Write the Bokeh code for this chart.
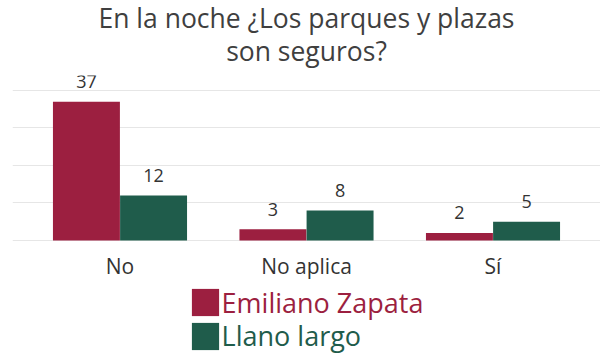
from bokeh.plotting import figure
from bokeh.models import FactorRange, Range1d, ColumnDataSource, Legend, LegendItem, Title
from bokeh.layouts import column
from bokeh.transform import dodge
from bokeh.core.properties import value
from bokeh.embed import file_html
from bokeh.resources import INLINE

categories = ["No", "No aplica", "Sí"]
emiliano_zapata = [37, 3, 2]
llano_largo = [12, 8, 5]
series_names = ["Emiliano Zapata", "Llano largo"]
grid_ticks = [0, 10, 20, 30, 40]
title_lines = ["En la noche ¿Los parques y plazas", "son seguros?"]

RED = "#9c1f40"
GREEN = "#1f5c4b"
FONT = "Open Sans"

src = ColumnDataSource(dict(
    cat=categories,
    ez=emiliano_zapata,
    ll=llano_largo,
    ez_lbl=[str(v) for v in emiliano_zapata],
    ll_lbl=[str(v) for v in llano_largo],
))

p = figure(
    width=600, height=282,
    x_range=FactorRange(*categories, range_padding=0.0764, range_padding_units="absolute"),
    y_range=Range1d(-0.3, 43.97),
    output_backend="svg", toolbar_location=None,
    min_border_left=12, min_border_right=0, min_border_top=75, min_border_bottom=40,
    title=title_lines[0],
)
p.outline_line_color = None


def style_title(t, standoff):
    t.align = "center"
    t.offset = 5
    t.text_font = FONT
    t.text_font_size = "26.5px"
    t.text_font_style = "normal"
    t.text_color = "#3f3f3f"
    t.standoff = standoff


style_title(p.title, -24)
t2 = Title(text=title_lines[1])
style_title(t2, 14)
p.add_layout(t2, "above")

w = 0.359
off = 0.18
r1 = p.vbar(x=dodge("cat", -off, range=p.x_range), top="ez", width=w, source=src,
            fill_color=RED, line_color=None)
r2 = p.vbar(x=dodge("cat", off, range=p.x_range), top="ll", width=w, source=src,
            fill_color=GREEN, line_color=None)

for col, lbl, o in (("ez", "ez_lbl", -off), ("ll", "ll_lbl", off)):
    p.text(x=dodge("cat", o, range=p.x_range), y=col, text=lbl, source=src,
           text_align="center", text_baseline="alphabetic", y_offset=-20,
           text_font=value(FONT), text_font_size="18px", text_color="#333333")

p.xgrid.grid_line_color = None
p.yaxis.visible = False
p.yaxis.ticker = grid_ticks
p.ygrid.ticker = grid_ticks
p.ygrid.grid_line_color = "#e6e6e6"
p.ygrid.grid_line_width = 1

p.xaxis.axis_line_color = None
p.xaxis.major_tick_line_color = None
p.xaxis.minor_tick_line_color = None
p.xaxis.major_label_text_font = FONT
p.xaxis.major_label_text_font_size = "21px"
p.xaxis.major_label_text_color = "#333333"
p.xaxis.major_label_standoff = 4

# legend strip
p2 = figure(width=600, height=72, x_range=(0, 1), y_range=(0, 1),
            output_backend="svg", toolbar_location=None, min_border=0)
p2.outline_line_color = None
p2.axis.visible = False
p2.grid.visible = False
lr1 = p2.vbar(x=[2], top=[2], width=0.1, fill_color=RED, line_color=None)
lr2 = p2.vbar(x=[2], top=[2], width=0.1, fill_color=GREEN, line_color=None)

for r, name, color, vy in ((lr1, series_names[0], RED, 33.5), (lr2, series_names[1], GREEN, 0)):
    leg = Legend(items=[LegendItem(label=name, renderers=[r])], location=(175.6, vy),
                 orientation="vertical", margin=0, padding=0, border_line_color=None,
                 background_fill_alpha=0, glyph_width=34, glyph_height=34,
                 label_standoff=0, label_height=34,
                 label_text_font=FONT, label_text_font_size="27px", label_text_color=color)
    p2.add_layout(leg)

layout = column(p, p2, spacing=0)
open("out.html", "w").write(file_html(layout, INLINE))
